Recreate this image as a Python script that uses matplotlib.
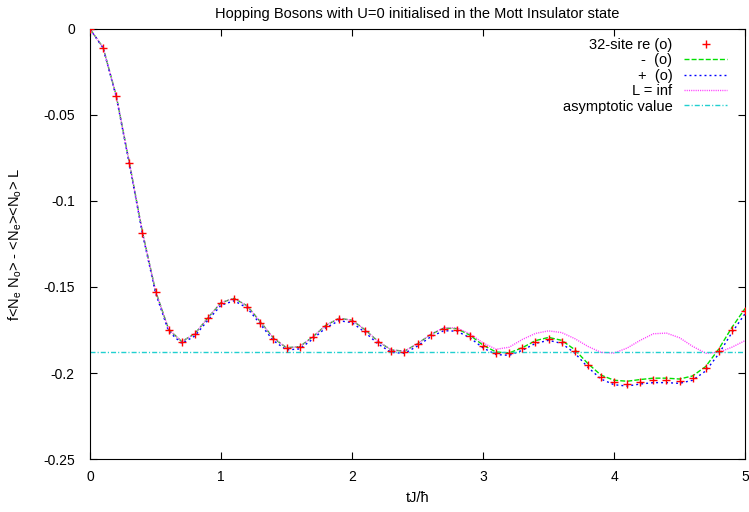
import numpy as np
import matplotlib
matplotlib.use("Agg")
import matplotlib.pyplot as plt

plt.rcParams['font.family'] = ['Liberation Sans', 'DejaVu Sans']
plt.rcParams['mathtext.default'] = 'regular'

# time grid tJ/hbar, step 0.1
t = np.linspace(0, 5, 51)

# 32-site re (o) markers
re_o = [0.0, -0.0109, -0.0390, -0.0779, -0.1184, -0.1527, -0.1750, -0.1820, -0.1775, -0.1682,
        -0.1595, -0.1570, -0.1614, -0.1707, -0.1802, -0.1857, -0.1850, -0.1793, -0.1727, -0.1686,
        -0.1698, -0.1754, -0.1822, -0.1870, -0.1876, -0.1833, -0.1780, -0.1744, -0.1748, -0.1785,
        -0.1843, -0.1882, -0.1886, -0.1857, -0.1818, -0.1800, -0.1818, -0.1872, -0.1953, -0.2021,
        -0.2054, -0.2064, -0.2050, -0.2040, -0.2040, -0.2045, -0.2027, -0.1973, -0.1872, -0.1750,
        -0.1640]

# "-  (o)"
minus_o = [0.0, -0.0108, -0.0388, -0.0776, -0.1180, -0.1523, -0.1746, -0.1817, -0.1772, -0.1679,
           -0.1591, -0.1566, -0.1610, -0.1702, -0.1797, -0.1853, -0.1847, -0.1790, -0.1723, -0.1682,
           -0.1693, -0.1749, -0.1817, -0.1866, -0.1873, -0.1830, -0.1776, -0.1739, -0.1742, -0.1780,
           -0.1838, -0.1878, -0.1883, -0.1853, -0.1812, -0.1793, -0.1810, -0.1864, -0.1945, -0.2012,
           -0.2042, -0.2048, -0.2038, -0.2030, -0.2030, -0.2035, -0.2017, -0.1962, -0.1860, -0.1735,
           -0.1625]

# "+  (o)"
plus_o = [0.0, -0.0112, -0.0394, -0.0785, -0.1190, -0.1535, -0.1758, -0.1828, -0.1785, -0.1693,
          -0.1606, -0.1580, -0.1622, -0.1716, -0.1812, -0.1866, -0.1860, -0.1803, -0.1737, -0.1696,
          -0.1707, -0.1764, -0.1832, -0.1880, -0.1886, -0.1843, -0.1790, -0.1754, -0.1757, -0.1795,
          -0.1854, -0.1893, -0.1897, -0.1868, -0.1828, -0.1810, -0.1828, -0.1884, -0.1966, -0.2035,
          -0.2068, -0.2076, -0.2064, -0.2056, -0.2056, -0.2060, -0.2042, -0.1988, -0.1888, -0.1765,
          -0.1655]

# L = inf
l_inf = [0.0, -0.0108, -0.0388, -0.0776, -0.1180, -0.1523, -0.1746, -0.1817, -0.1772, -0.1679,
         -0.1591, -0.1566, -0.1610, -0.1702, -0.1797, -0.1853, -0.1847, -0.1790, -0.1723, -0.1682,
         -0.1693, -0.1749, -0.1817, -0.1866, -0.1873, -0.1830, -0.1775, -0.1737, -0.1738, -0.1772,
         -0.1825, -0.1862, -0.1850, -0.1805, -0.1770, -0.1755, -0.1765, -0.1800, -0.1845, -0.1880,
         -0.1884, -0.1855, -0.1810, -0.1772, -0.1768, -0.1795, -0.1845, -0.1885, -0.1880, -0.1850,
         -0.1812]

asymptote = -0.1875

yticks = [0, -0.05, -0.1, -0.15, -0.2, -0.25]
ytick_labels = ["0", "-0.05", "-0.1", "-0.15", "-0.2", "-0.25"]

fig = plt.figure(figsize=(7.49, 5.12), dpi=100)
ax = fig.add_axes([0.1202, 0.1035, 0.8745, 0.8399])

ax.plot(t, re_o, linestyle='none', marker='+', color='#ff0000', markersize=5.5,
        markeredgewidth=1, label="32-site re (o)", zorder=5)
ax.plot(t, minus_o, color='#00e000', lw=1, dashes=(3.6, 1.5), label="-  (o)")
ax.plot(t, plus_o, color='#0000ff', lw=1, dashes=(1.4, 2.2), label="+  (o)")
ax.plot(t, l_inf, color='#ff40ff', lw=1, dashes=(0.8, 0.8), label="L = inf")
ax.axhline(asymptote, color='#20d0d0', lw=1, dashes=(3.6, 1.5, 0.8, 1.5),
           label="asymptotic value")

ax.set_xlim(0, 5)
ax.set_ylim(-0.25, 0)
ax.set_yticks(yticks)
ax.set_yticklabels(ytick_labels)
ax.set_xticks([0, 1, 2, 3, 4, 5])
ax.tick_params(direction='in', top=True, right=True, length=5, labelsize=10)
ax.tick_params(axis='y', pad=11)
ax.tick_params(axis='x', pad=8)

ax.set_title("Hopping Bosons with U=0 initialised in the Mott Insulator state",
             fontsize=10.5, pad=8)
ax.set_xlabel("tJ/ħ", fontsize=10.5, labelpad=5)
ax.set_ylabel("f<N$_e$ N$_o$> - <N$_e$><N$_o$> L", fontsize=10.5, labelpad=14)

ax.legend(loc='upper right', bbox_to_anchor=(0.986, 1.0), frameon=False,
          markerfirst=False, fontsize=10.5, handlelength=2.95, handletextpad=0.8,
          labelspacing=0.1, borderaxespad=0.3, borderpad=0.3)

fig.savefig("out.png", dpi=100)
